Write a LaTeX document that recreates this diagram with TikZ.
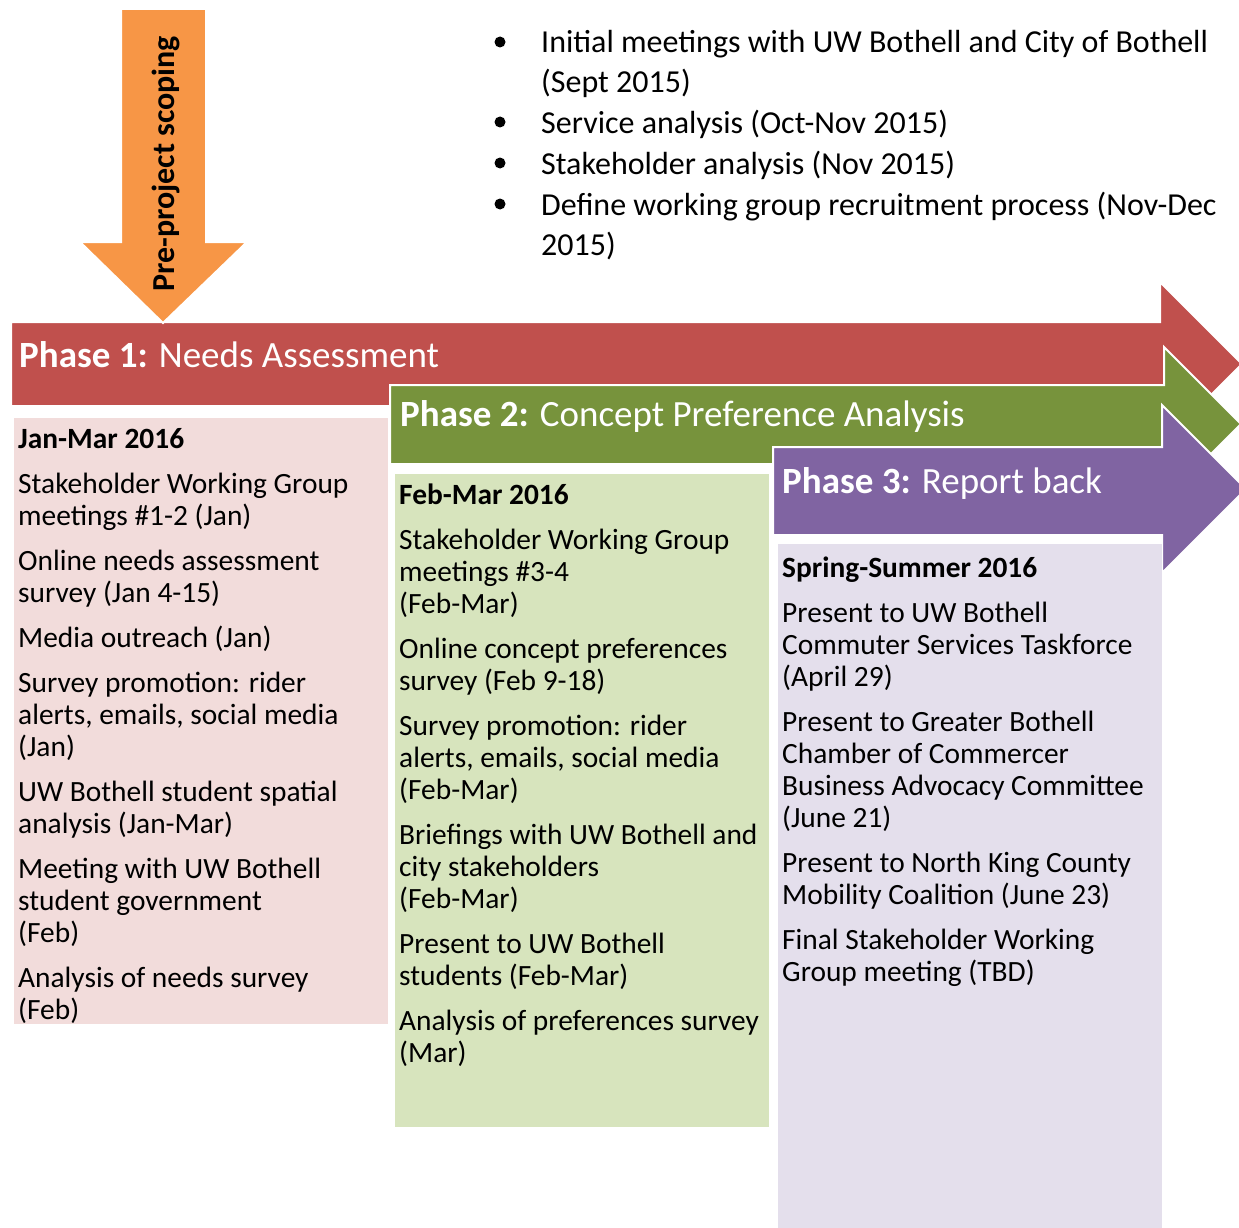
\documentclass[tikz,border=0pt]{standalone}
\usepackage{fontspec}
\setmainfont{Carlito}
\definecolor{pRed}{HTML}{C0504D}
\definecolor{pGreen}{HTML}{77933C}
\definecolor{pPurple}{HTML}{8064A2}
\definecolor{pOrange}{HTML}{F79646}
\definecolor{bPink}{HTML}{F2DCDB}
\definecolor{bGreen}{HTML}{D7E4BD}
\definecolor{bPurple}{HTML}{E4DFEC}
\begin{document}
\begin{tikzpicture}[x=1pt,y=-1pt,
  arr/.style={draw=white, line width=2pt, line join=miter},
  box/.style={draw=white, line width=1pt},
  body/.style={anchor=base west, inner sep=0pt, align=left, font=\fontsize{29.4}{32}\selectfont},
  hdr/.style={anchor=base west, inner sep=0pt, font=\fontsize{29.4}{32}\selectfont\bfseries},
  ttl/.style={anchor=base west, inner sep=0pt, text=white, font=\fontsize{37}{44}\selectfont},
  bultxt/.style={anchor=base west, inner sep=0pt, align=left, font=\fontsize{32}{40}\selectfont},
  dot/.style={circle, fill=black, inner sep=0pt, minimum size=11pt}]
\useasboundingbox (0,0) rectangle (1239,1228);
\clip (0,0) rectangle (1239,1228);

% Phase 1 arrow and box
\fill[pRed, arr] (11,322) -- (1160,322) -- (1160,282) -- (1242,364) -- (1160,446) -- (1160,406) -- (11,406) -- cycle;
\fill[bPink, box] (13,417) rectangle (388,1024);

% Pre-project arrow
\fill[pOrange, arr] (121,9) -- (206,9) -- (206,242) -- (247,242) -- (163,323) -- (80,242) -- (121,242) -- cycle;
\node[anchor=base west, inner sep=0pt, rotate=90, font=\fontsize{32}{38}\selectfont\bfseries] (pre) at (174,292) {Pre-project scoping};

% Phase 2 arrow and box
\fill[pGreen, arr] (390,385) -- (1164,385) -- (1164,347) -- (1241,424) -- (1164,501) -- (1164,464) -- (390,464) -- cycle;
\fill[bGreen, box] (394,473) rectangle (769,1127);

% Phase 3 arrow and box
\fill[pPurple, arr] (773,447) -- (1162,447) -- (1162,405) -- (1246,489) -- (1162,573) -- (1162,535) -- (773,535) -- cycle;
\fill[bPurple, box] (777,543) rectangle (1162,1228);

% Titles
\node[ttl] (t1) at (19,367) {\textbf{Phase 1:} Needs Assessment};
\node[ttl] (t2) at (400,426) {\textbf{Phase 2:} Concept Preference Analysis};
\node[ttl] (t3) at (782,493) {\textbf{Phase 3:} Report back};

% Bullets (base anchor = last line)
\node[dot] (d1) at (500,42) {};
\node[dot] (d2) at (500,122) {};
\node[dot] (d3) at (500,163) {};
\node[dot] (d4) at (500,204) {};
\node[bultxt] (b1) at (541,93) {Initial meetings with UW Bothell and City of Bothell\\(Sept 2015)};
\node[bultxt] (b2) at (541,133) {Service analysis (Oct-Nov 2015)};
\node[bultxt] (b3) at (541,174) {Stakeholder analysis (Nov 2015)};
\node[bultxt] (b4) at (541,255) {Define working group recruitment process (Nov-Dec\\2015)};

% Phase 1 box text
\node[hdr] (h1) at (18,448) {Jan-Mar 2016};
\node[body] (l1) at (18,525) {Stakeholder Working Group\\meetings \#1-2 (Jan)};
\node[body] (l2) at (18,602) {Online needs assessment\\survey (Jan 4-15)};
\node[body] (l3) at (18,647) {Media outreach (Jan)};
\node[body] (l4) at (18,756) {Survey promotion: rider\\alerts, emails, social media\\(Jan)};
\node[body] (l5) at (18,833) {UW Bothell student spatial\\analysis (Jan-Mar)};
\node[body] (l6) at (18,942) {Meeting with UW Bothell\\student government\\(Feb)};
\node[body] (l7) at (18,1019) {Analysis of needs survey\\(Feb)};

% Phase 2 box text
\node[hdr] (h2) at (399,504) {Feb-Mar 2016};
\node[body] (m1) at (399,613) {Stakeholder Working Group\\meetings \#3-4\\(Feb-Mar)};
\node[body] (m2) at (399,690) {Online concept preferences\\survey (Feb 9-18)};
\node[body] (m3) at (399,799) {Survey promotion: rider\\alerts, emails, social media\\(Feb-Mar)};
\node[body] (m4) at (399,908) {Briefings with UW Bothell and\\city stakeholders\\(Feb-Mar)};
\node[body] (m5) at (399,985) {Present to UW Bothell\\students (Feb-Mar)};
\node[body] (m6) at (399,1062) {Analysis of preferences survey\\(Mar)};

% Phase 3 box text
\node[hdr] (h3) at (782,577) {Spring-Summer 2016};
\node[body] (r1) at (782,686) {Present to UW Bothell\\Commuter Services Taskforce\\(April 29)};
\node[body] (r2) at (782,827) {Present to Greater Bothell\\Chamber of Commercer\\Business Advocacy Committee\\(June 21)};
\node[body] (r3) at (782,904) {Present to North King County\\Mobility Coalition (June 23)};
\node[body] (r4) at (782,981) {Final Stakeholder Working\\Group meeting (TBD)};
\end{tikzpicture}
\end{document}
